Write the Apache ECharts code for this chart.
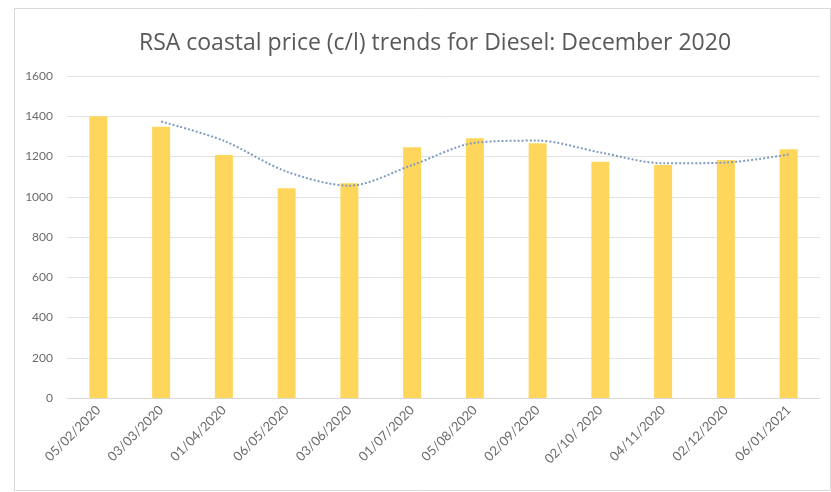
<!DOCTYPE html>
<html>
<head>
<meta charset="utf-8">
<script src="https://cdn.jsdelivr.net/npm/echarts@6/dist/echarts.min.js"></script>
<style>
html,body{margin:0;padding:0;background:#fff;}
#chart{width:831px;height:492px;}
</style>
</head>
<body>
<div id="chart"></div>
<script>
const categories = ['05/02/2020','03/03/2020','01/04/2020','06/05/2020','03/06/2020','01/07/2020','05/08/2020','02/09/2020','02/10/ 2020','04/11/2020','02/12/2020','06/01/2021'];
const prices = [1400, 1348, 1208, 1042, 1067, 1246, 1291, 1266, 1174, 1158, 1183, 1236];
const trend = [null, 1374, 1278, 1125, 1055, 1157, 1268, 1279, 1220, 1166, 1170, 1210];
const yTicks = [0, 200, 400, 600, 800, 1000, 1200, 1400, 1600];

const chart = echarts.init(document.getElementById('chart'), null, {renderer: 'canvas'});
chart.setOption({
  animation: false,
  backgroundColor: '#ffffff',
  title: {
    text: 'RSA coastal price (c/l) trends for Diesel: December 2020',
    left: 430, top: 27, textAlign: 'center',
    textStyle: {fontFamily: 'Open Sans', fontSize: 23, fontWeight: 'normal', color: '#595959'}
  },
  graphic: [{
    type: 'rect', left: 12, top: 6, silent: true,
    shape: {width: 816, height: 482},
    style: {fill: 'none', stroke: '#d9d9d9', lineWidth: 1}
  }],
  grid: {left: 67, right: 11, top: 76, bottom: 94},
  xAxis: {
    type: 'category', data: categories,
    axisLine: {show: true, lineStyle: {color: '#d9d9d9'}},
    axisTick: {show: false},
    axisLabel: {rotate: 45, interval: 0, color: '#6b6b6b', fontFamily: 'Lato', fontSize: 13, margin: 10}
  },
  yAxis: {
    type: 'value', min: yTicks[0], max: yTicks[yTicks.length - 1], interval: 200,
    axisLine: {show: false}, axisTick: {show: false},
    splitLine: {lineStyle: {color: '#e3e3e3', width: 1}},
    axisLabel: {color: '#6b6b6b', fontFamily: 'Lato', fontSize: 12, margin: 14, formatter: v => String(v)}
  },
  series: [{
    type: 'bar', data: prices, barWidth: 18,
    itemStyle: {color: '#FFD65C'}
  }, {
    type: 'line', data: trend, smooth: 0.3, symbol: 'none', connectNulls: false,
    lineStyle: {color: '#7f9cc0', width: 2, type: 'dotted'}
  }]
});
</script>
</body>
</html>
